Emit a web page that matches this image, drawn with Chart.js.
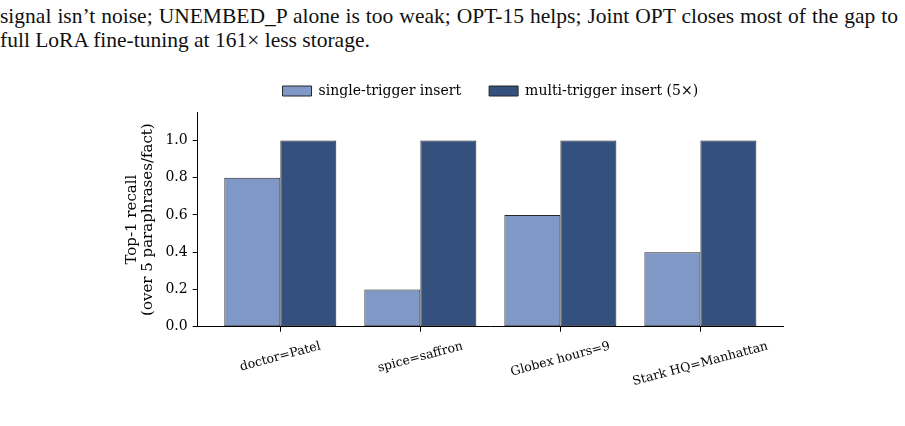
<!DOCTYPE html>
<html>
<head>
<meta charset="utf-8">
<script src="https://cdn.jsdelivr.net/npm/chart.js@4.4.0/dist/chart.umd.min.js"></script>
<style>
  html, body { margin: 0; padding: 0; background: #fff; width: 905px; height: 426px; overflow: hidden; }
  .para { position: absolute; left: 0; width: 898px; font-family: "Liberation Serif", serif; font-size: 21.5px; color: #111; }
  #line1 { top: 4px; text-align: justify; text-align-last: justify; }
  #line2 { top: 28px; white-space: nowrap; }
  #wrap { position: absolute; left: 100px; top: 56px; width: 790px; height: 344px; }
</style>
</head>
<body>
<div class="para" id="line1">signal isn’t noise; UNEMBED_P alone is too weak; OPT-15 helps; Joint OPT closes most of the gap to</div>
<div class="para" id="line2">full LoRA fine-tuning at 161× less storage.</div>
<div id="wrap"><canvas id="chart" width="790" height="344"></canvas></div>

<script>
// ------------------------------------------------------------
// data
// ------------------------------------------------------------
const facts         = ['doctor=Patel', 'spice=saffron', 'Globex hours=9', 'Stark HQ=Manhattan'];
const singleTrigger = [0.8, 0.2, 0.6, 0.4];
const multiTrigger  = [1.0, 1.0, 1.0, 1.0];
const seriesNames   = ['single-trigger insert', 'multi-trigger insert (5×)'];
const yTicks        = [0, 0.2, 0.4, 0.6, 0.8, 1.0];

const SERIF = '"DejaVu Serif", serif';
const LABEL_ANGLE = 15 * Math.PI / 180;

// legend height is fixed so the plot area starts where the reference's does
const legendHeightFix = {
  id: 'legendHeightFix',
  beforeLayout(chart) {
    const lg = chart.legend;
    if (!lg || lg._fixed) return;
    const orig = lg.fit;
    lg.fit = function () {
      orig.call(this);
      if (this.isHorizontal()) this.height = 56.5;
    };
    lg._fixed = true;
  }
};

// rotated category labels, centred under each tick (matplotlib style)
const factLabels = {
  id: 'factLabels',
  afterDraw(chart) {
    const { ctx } = chart;
    const xs = chart.scales.x;
    ctx.save();
    ctx.font = '12.5px ' + SERIF;
    ctx.fillStyle = '#000';
    ctx.textAlign = 'center';
    ctx.textBaseline = 'middle';
    facts.forEach((f, i) => {
      const x = xs.getPixelForValue(i);
      const w = ctx.measureText(f).width;
      const y = xs.top + 13.5 + (w * Math.sin(LABEL_ANGLE) + 12 * Math.cos(LABEL_ANGLE)) / 2;
      ctx.save();
      ctx.translate(x, y);
      ctx.rotate(-LABEL_ANGLE);
      ctx.fillText(f, 0, 0);
      ctx.restore();
    });
    ctx.restore();
  }
};

const toPoints = arr => arr.map((v, i) => ({ x: i, y: v }));

new Chart(document.getElementById('chart'), {
  type: 'bar',
  data: {
    datasets: [
      {
        label: seriesNames[0],
        data: toPoints(singleTrigger),
        backgroundColor: '#7f98c6',
        borderColor: '#262626',
        borderWidth: 1,
        borderSkipped: false,
        categoryPercentage: 0.8,
        barPercentage: 1.0,
      },
      {
        label: seriesNames[1],
        data: toPoints(multiTrigger),
        backgroundColor: '#34517e',
        borderColor: '#262626',
        borderWidth: 1,
        borderSkipped: false,
        categoryPercentage: 0.8,
        barPercentage: 1.0,
      },
    ],
  },
  options: {
    responsive: false,
    devicePixelRatio: 1,
    animation: false,
    layout: { padding: { left: 0, right: 107, top: 0, bottom: 0 } },
    plugins: {
      legend: {
        position: 'top',
        fullSize: false,
        labels: {
          boxWidth: 29,
          boxHeight: 10,
          padding: 28,
          color: '#000',
          font: { family: SERIF, size: 14 },
        },
      },
      tooltip: { enabled: false },
    },
    scales: {
      x: {
        type: 'linear',
        min: -0.59,
        max: 3.59,
        offset: false,
        afterBuildTicks: s => { s.ticks = facts.map((f, i) => ({ value: i })); },
        afterFit: s => { s.height = 73.3; },
        ticks: { callback: () => '', autoSkip: false },
        grid: { offset: false, drawOnChartArea: false, drawTicks: true, tickLength: 5, color: '#000', lineWidth: 1 },
        border: { color: '#000', width: 1 },
      },
      y: {
        min: 0,
        max: 1.15,
        afterBuildTicks: s => { s.ticks = yTicks.map(v => ({ value: v })); },
        afterFit: s => { s.width = 97.7; },
        ticks: {
          callback: v => v.toFixed(1),
          color: '#000',
          padding: 5,
          font: { family: SERIF, size: 14 },
        },
        grid: { drawOnChartArea: false, drawTicks: true, tickLength: 5, color: '#000', lineWidth: 1 },
        border: { color: '#000', width: 1 },
        title: {
          display: true,
          text: ['Top-1 recall', '(over 5 paraphrases/fact)'],
          color: '#000',
          font: { family: SERIF, size: 15, lineHeight: 1.1 },
          padding: { top: 23.4, bottom: 0 },
        },
      },
    },
  },
  plugins: [legendHeightFix, factLabels],
});
</script>
</body>
</html>
